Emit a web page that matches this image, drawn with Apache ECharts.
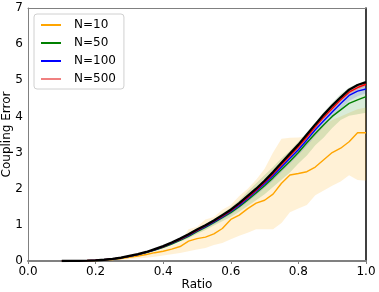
<!DOCTYPE html>
<html><head><meta charset="utf-8">
<script src="https://cdn.jsdelivr.net/npm/echarts@6/dist/echarts.min.js"></script>
<style>html,body{margin:0;padding:0;background:#fff}#c{width:379px;height:292px}</style>
</head><body><div id="c"></div>
<script>
const ratio = [0.1,0.125,0.15,0.175,0.2,0.225,0.25,0.275,0.3,0.325,0.35,0.375,0.4,0.425,0.45,0.475,0.5,0.525,0.55,0.575,0.6,0.625,0.65,0.675,0.7,0.725,0.75,0.775,0.8,0.825,0.85,0.875,0.9,0.925,0.95,0.975,1.0];
const theory = [0,0.003,0.006,0.012,0.02,0.035,0.06,0.09,0.14,0.19,0.25,0.33,0.41,0.51,0.62,0.74,0.87,0.99,1.12,1.27,1.42,1.6,1.8,2.0,2.22,2.46,2.72,2.97,3.22,3.5,3.78,4.05,4.3,4.53,4.74,4.87,4.95];
const n500 = [0,0.003,0.006,0.012,0.02,0.034,0.058,0.088,0.135,0.185,0.245,0.32,0.4,0.5,0.6,0.72,0.85,0.97,1.1,1.24,1.39,1.57,1.76,1.96,2.18,2.41,2.66,2.91,3.16,3.43,3.71,3.98,4.22,4.46,4.67,4.8,4.89];
const n100 = [0,0.003,0.006,0.011,0.019,0.033,0.056,0.086,0.13,0.18,0.24,0.31,0.39,0.49,0.59,0.7,0.83,0.95,1.08,1.22,1.37,1.54,1.73,1.93,2.14,2.36,2.6,2.84,3.08,3.35,3.63,3.88,4.12,4.36,4.58,4.7,4.76];
const n50 = [0,0.003,0.006,0.011,0.019,0.032,0.055,0.084,0.128,0.175,0.235,0.3,0.38,0.47,0.57,0.68,0.81,0.93,1.06,1.2,1.34,1.5,1.69,1.88,2.08,2.3,2.53,2.76,3.0,3.27,3.53,3.77,4.0,4.18,4.36,4.46,4.55];
const n10 = [0,0,0.004,0.008,0.015,0.025,0.04,0.07,0.1,0.14,0.18,0.23,0.27,0.33,0.4,0.55,0.62,0.66,0.75,0.9,1.15,1.27,1.45,1.6,1.68,1.85,2.15,2.38,2.42,2.47,2.6,2.8,3.0,3.12,3.3,3.55,3.55];
const n10Low = [0,0,0,0.002,0.005,0.01,0.02,0.035,0.05,0.07,0.09,0.12,0.15,0.19,0.22,0.27,0.32,0.36,0.44,0.5,0.6,0.7,0.78,0.88,0.88,0.88,1.05,1.35,1.45,1.55,1.82,1.95,2.08,2.2,2.37,2.24,2.22];
const n10High = [0,0.002,0.008,0.015,0.03,0.05,0.08,0.12,0.17,0.22,0.28,0.32,0.4,0.45,0.52,0.88,0.95,1.15,1.22,1.42,1.55,1.8,2.0,2.25,2.55,3.0,3.38,3.41,3.42,3.45,3.6,3.75,3.9,4.0,4.1,4.2,4.25];
const n50Low = [0,0.003,0.005,0.01,0.017,0.03,0.05,0.078,0.12,0.165,0.22,0.28,0.35,0.44,0.53,0.63,0.75,0.86,0.98,1.1,1.22,1.36,1.52,1.68,1.85,2.05,2.25,2.45,2.7,2.92,3.2,3.42,3.68,3.9,4.02,4.06,4.1];
const n50High = [0,0.003,0.007,0.013,0.021,0.036,0.062,0.092,0.145,0.195,0.26,0.34,0.42,0.52,0.63,0.76,0.89,1.02,1.16,1.32,1.48,1.68,1.92,2.15,2.38,2.6,2.84,3.06,3.3,3.56,3.84,4.12,4.38,4.62,4.8,4.9,4.97];
const n100Low = [0,0.003,0.005,0.01,0.018,0.031,0.053,0.082,0.125,0.172,0.23,0.295,0.37,0.465,0.56,0.66,0.78,0.9,1.02,1.15,1.29,1.45,1.63,1.82,2.02,2.23,2.46,2.69,2.93,3.18,3.46,3.72,3.96,4.2,4.43,4.56,4.64];
const n100High = [0,0.003,0.007,0.012,0.02,0.035,0.059,0.09,0.135,0.188,0.25,0.325,0.41,0.515,0.62,0.74,0.88,1.0,1.14,1.29,1.45,1.63,1.83,2.04,2.26,2.49,2.74,2.99,3.23,3.51,3.79,4.04,4.28,4.52,4.72,4.83,4.9];
const n500Low = [0,0.003,0.006,0.011,0.019,0.033,0.056,0.085,0.13,0.18,0.238,0.31,0.39,0.485,0.585,0.7,0.83,0.945,1.07,1.21,1.36,1.53,1.72,1.92,2.13,2.36,2.6,2.85,3.1,3.37,3.65,3.92,4.16,4.4,4.61,4.74,4.83];
const n500High = [0,0.003,0.006,0.013,0.021,0.035,0.06,0.091,0.14,0.19,0.252,0.33,0.41,0.515,0.615,0.74,0.87,0.995,1.13,1.27,1.42,1.61,1.8,2.0,2.23,2.46,2.72,2.97,3.22,3.49,3.77,4.04,4.28,4.52,4.73,4.86,4.95];

const FONT = 'DejaVu Sans';
const pairs = arr => ratio.map((x,i)=>[x, arr[i]]);
function band(name, low, high, color){
  return {
    type:'custom', name:name, silent:true, z:1,
    data: ratio.map((x,i)=>[x, low[i], high[i]]),
    encode:{x:0, y:[1,2]},
    renderItem: function(params, api){
      if (params.dataIndex !== 0) return null;
      const pts = [];
      for (let i=0;i<ratio.length;i++) pts.push(api.coord([ratio[i], high[i]]));
      for (let i=ratio.length-1;i>=0;i--) pts.push(api.coord([ratio[i], low[i]]));
      return {type:'polygon', shape:{points:pts}, style:{fill:color}};
    }
  };
}
function line(name, arr, color, legendColor, w, z){
  return {type:'line', name:name, data: pairs(arr), symbol:'none', itemStyle:{color: legendColor}, lineStyle:{color: color, width: w}, z: z};
}
const series = [
  band('b10', n10Low, n10High, 'rgba(255,165,0,0.16)'),
  band('b50', n50Low, n50High, 'rgba(0,128,0,0.15)'),
  band('b100', n100Low, n100High, 'rgba(0,0,255,0.12)'),
  band('b500', n500Low, n500High, 'rgba(255,0,0,0.15)'),
  line('N=10', n10, '#FFA500', '#FFA500', 1.4, 3),
  line('N=50', n50, '#008000', '#008000', 1.4, 4),
  line('N=100', n100, '#0000FF', '#0000FF', 1.4, 5),
  line('N=500', n500, '#FF0000', '#F08080', 1.4, 6),
  line('theory', theory, '#000000', '#000000', 2.3, 7)
];

const chart = echarts.init(document.getElementById('c'), null, {renderer:'canvas'});
chart.setOption({
  animation:false,
  backgroundColor:'#fff',
  grid:{left:28, right:13, top:8, bottom:31, containLabel:false, outerBoundsMode:'none'},
  legend:{
    data:['N=10','N=50','N=100','N=500'],
    orient:'vertical', left:34, top:14,
    icon:'rect', itemWidth:20, itemHeight:2, itemGap:6,
    padding:[5,8,4,7],
    backgroundColor:'#fff', borderColor:'#d0d0d0', borderWidth:1, borderRadius:3,
    textStyle:{fontFamily:FONT, fontSize:12, color:'#000', lineHeight:12, padding:[0,0,0,8]}
  },
  xAxis:[{
    type:'value', min:0, max:1, interval:0.2,
    axisLine:{show:true, onZero:false, lineStyle:{color:'#808080', width:2}},
    axisTick:{show:true, length:3, lineStyle:{color:'#808080'}},
    splitLine:{show:false},
    axisLabel:{fontFamily:FONT, fontSize:12, color:'#000', margin:5, formatter: v=>v.toFixed(1)},
    name:'Ratio', nameLocation:'middle', nameGap:18, nameMoveOverlap:false,
    nameTextStyle:{fontFamily:FONT, fontSize:12, color:'#000'}
  },{
    type:'value', min:0, max:1, position:'top',
    axisLine:{show:true, onZero:false, lineStyle:{color:'#808080', width:1}},
    axisTick:{show:false}, axisLabel:{show:false}, splitLine:{show:false}
  }],
  yAxis:[{
    type:'value', min:0, max:7, interval:1,
    axisLine:{show:true, onZero:false, lineStyle:{color:'#808080', width:1}},
    axisTick:{show:false},
    splitLine:{show:false},
    axisLabel:{fontFamily:FONT, fontSize:12, color:'#000', margin:5},
    name:'Coupling Error', nameLocation:'middle', nameGap:15, nameMoveOverlap:false,
    nameTextStyle:{fontFamily:FONT, fontSize:12, color:'#000'}
  },{
    type:'value', min:0, max:7, position:'right',
    axisLine:{show:true, onZero:false, lineStyle:{color:'#000', width:1.5}},
    axisTick:{show:false}, axisLabel:{show:false}, splitLine:{show:false}
  }],
  series: series
});
</script></body></html>
